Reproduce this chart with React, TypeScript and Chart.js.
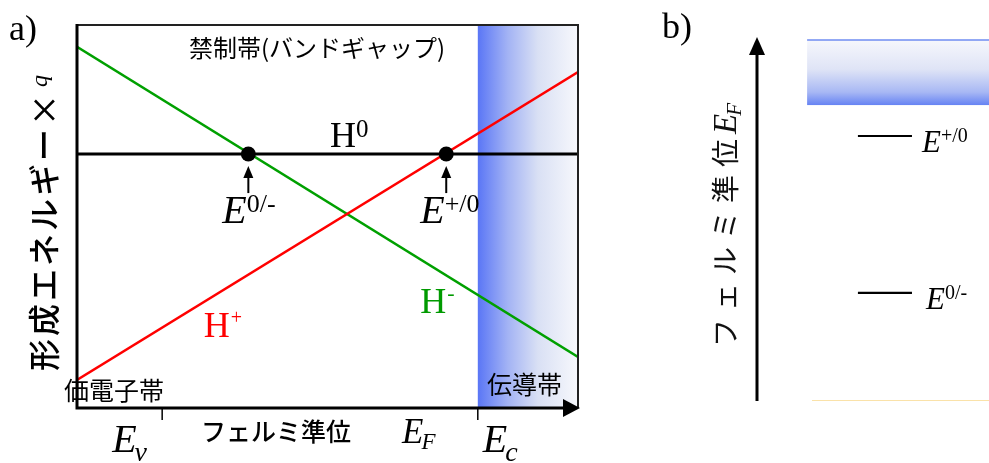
import React, { useEffect, useRef } from "react";
import { Chart, registerables } from "chart.js";
Chart.register(...registerables);

// ---------- Panel a: formation energy vs Fermi level (arbitrary units) ----------
const fermiMin = 0;
const fermiMax = 10;
const energyMin = 0;
const energyMax = 10;
const hMinusX = [0, 10];
const hMinusY = [9.43, 1.33];
const hPlusX = [0, 10];
const hPlusY = [0.73, 8.77];
const hZeroX = [0, 10];
const hZeroY = [6.63, 6.63];
const transitionX = [3.42, 7.37];
const transitionY = [6.63, 6.63];
const transitionLabels = ["0/-", "+/0"];
const bandEdgeX = [1.7, 8.0];
const bandEdgeSubs = ["v", "c"];
const conductionBandStart = 8.0;

// ---------- Panel b: level diagram on the Fermi-level axis ----------
const levelMin = 0;
const levelMax = 10;
const levelY = [7.28, 2.97];
const levelLabels = ["+/0", "0/-"];
const levelX = [4.35, 6.68];
const cbBandX = [2.16, 10];
const cbBandY = [8.13, 9.92];
const vbLineX = [2.37, 10];
const vbLineY = [0, 0];

const CJK = '"Noto Sans CJK JP", "Noto Sans", sans-serif';
const SERIF = '"Liberation Serif", "DejaVu Serif", serif';

const pts = (xs: number[], ys: number[]) => xs.map((x, i) => ({ x, y: ys[i] }));

type Part = { t: string; f: string; dy?: number; dx?: number };
function rich(ctx: CanvasRenderingContext2D, x: number, y: number, parts: Part[], color = "#000") {
  ctx.fillStyle = color;
  ctx.textAlign = "left";
  let cx = x;
  for (const p of parts) {
    ctx.font = p.f;
    cx += p.dx || 0;
    ctx.fillText(p.t, cx, y + (p.dy || 0));
    cx += ctx.measureText(p.t).width;
  }
}

function arrowHead(ctx: CanvasRenderingContext2D, tx: number, ty: number, dir: "up" | "right", len: number, half: number) {
  ctx.beginPath();
  if (dir === "up") {
    ctx.moveTo(tx, ty);
    ctx.lineTo(tx - half, ty + len);
    ctx.lineTo(tx + half, ty + len);
  } else {
    ctx.moveTo(tx, ty);
    ctx.lineTo(tx - len, ty - half);
    ctx.lineTo(tx - len, ty + half);
  }
  ctx.closePath();
  ctx.fill();
}

const panelAPlugin = {
  id: "panelA",
  beforeDatasetsDraw(chart: any) {
    const { ctx, scales } = chart;
    const x = scales.x, y = scales.y;
    const x0 = x.getPixelForValue(conductionBandStart);
    const x1 = x.getPixelForValue(fermiMax);
    const yT = y.getPixelForValue(energyMax);
    const yB = y.getPixelForValue(energyMin);
    const g = ctx.createLinearGradient(x0, 0, x1, 0);
    g.addColorStop(0, "#5a76f6");
    g.addColorStop(0.3, "#a3b3f4");
    g.addColorStop(0.6, "#d9e0f4");
    g.addColorStop(1, "#f7f8fc");
    ctx.save();
    ctx.fillStyle = g;
    ctx.fillRect(x0, yT, x1 - x0, yB - yT);
    ctx.restore();
  },
  afterDatasetsDraw(chart: any) {
    const { ctx, chartArea: a, scales } = chart;
    const x = scales.x, y = scales.y;
    ctx.save();
    // frame
    ctx.strokeStyle = "#222";
    ctx.lineWidth = 2;
    ctx.beginPath();
    ctx.moveTo(a.left, a.top);
    ctx.lineTo(a.right, a.top);
    ctx.lineTo(a.right, a.bottom);
    ctx.stroke();
    ctx.strokeStyle = "#000";
    ctx.lineWidth = 3;
    ctx.beginPath();
    ctx.moveTo(a.left, a.top - 1);
    ctx.lineTo(a.left, a.bottom);
    ctx.lineTo(a.right - 14, a.bottom);
    ctx.stroke();
    ctx.fillStyle = "#000";
    arrowHead(ctx, a.right + 2, a.bottom, "right", 17, 9);
    // band edge ticks and labels
    ctx.lineWidth = 1.5;
    bandEdgeX.forEach((v, i) => {
      const px = x.getPixelForValue(v);
      ctx.strokeStyle = "#000";
      ctx.beginPath();
      ctx.moveTo(px, a.bottom);
      ctx.lineTo(px, a.bottom + 12);
      ctx.stroke();
      const lx = i === 0 ? px - 50 : px + 5;
      rich(ctx, lx, 452, [
        { t: "E", f: `italic 40px ${SERIF}` },
        { t: bandEdgeSubs[i], f: `italic 28px ${SERIF}`, dy: 9, dx: -2 },
      ]);
    });
    // transition arrows + labels
    transitionX.forEach((v, i) => {
      const px = x.getPixelForValue(v);
      const py = y.getPixelForValue(transitionY[i]);
      ctx.strokeStyle = "#000";
      ctx.lineWidth = 2;
      ctx.beginPath();
      ctx.moveTo(px, py + 39);
      ctx.lineTo(px, py + 20);
      ctx.stroke();
      ctx.fillStyle = "#000";
      arrowHead(ctx, px, py + 12, "up", 12, 5);
      rich(ctx, px - 26, py + 69, [
        { t: "E", f: `italic 40px ${SERIF}` },
        { t: transitionLabels[i], f: `26px ${SERIF}`, dy: -11, dx: 0 },
      ]);
    });
    // curve labels
    const h0y = y.getPixelForValue(hZeroY[0]);
    rich(ctx, x.getPixelForValue(5.05), h0y - 7, [
      { t: "H", f: `36px ${SERIF}` },
      { t: "0", f: `25px ${SERIF}`, dy: -10 },
    ]);
    rich(ctx, x.getPixelForValue(2.53), 337, [
      { t: "H", f: `36px ${SERIF}` },
      { t: "+", f: `20px ${SERIF}`, dy: -13, dx: 1 },
    ], "#ff0000");
    rich(ctx, x.getPixelForValue(6.85), 313, [
      { t: "H", f: `36px ${SERIF}` },
      { t: "-", f: `22px ${SERIF}`, dy: -13, dx: 1 },
    ], "#009a00");
    // region labels
    ctx.fillStyle = "#000";
    ctx.textBaseline = "middle";
    ctx.font = `24px ${CJK}`;
    ctx.textAlign = "center";
    ctx.fillText("禁制帯(バンドギャップ)", 317, 48);
    ctx.textAlign = "left";
    ctx.font = `25px ${CJK}`;
    ctx.fillText("価電子帯", 64, 390);
    ctx.fillText("伝導帯", 487, 384);
    // x title
    ctx.font = `500 25px ${CJK}`;
    ctx.fillText("フェルミ準位", 201, 431);
    ctx.textBaseline = "alphabetic";
    rich(ctx, 402, 443, [
      { t: "E", f: `italic 35px ${SERIF}` },
      { t: "F", f: `italic 23px ${SERIF}`, dy: 6, dx: -2 },
    ]);
    // y title (rotated)
    ctx.save();
    ctx.translate(44, 371);
    ctx.rotate(-Math.PI / 2);
    ctx.textBaseline = "middle";
    ctx.font = `500 32px ${CJK}`;
    const ytxt = "形成エネルギー×";
    let u = 0;
    for (const ch of ytxt) {
      ctx.fillText(ch, u, 0);
      u += ctx.measureText(ch).width + 3;
    }
    ctx.textBaseline = "alphabetic";
    ctx.font = `italic 24px ${SERIF}`;
    ctx.fillText("q", u + 4, 3);
    ctx.restore();
    // panel tag
    ctx.font = `36px ${SERIF}`;
    ctx.fillStyle = "#000";
    ctx.fillText("a)", 9, 40);
    ctx.restore();
  },
};

const panelBPlugin = {
  id: "panelB",
  beforeDatasetsDraw(chart: any) {
    const { ctx, scales } = chart;
    const x = scales.x, y = scales.y;
    const x0 = x.getPixelForValue(cbBandX[0]);
    const x1 = x.getPixelForValue(cbBandX[1]);
    const yT = y.getPixelForValue(cbBandY[1]);
    const yB = y.getPixelForValue(cbBandY[0]);
    const g = ctx.createLinearGradient(0, yT, 0, yB);
    g.addColorStop(0, "#f6f7fc");
    g.addColorStop(0.45, "#dfe4f6");
    g.addColorStop(0.8, "#a8b8f4");
    g.addColorStop(1, "#6683f3");
    ctx.save();
    ctx.fillStyle = g;
    ctx.fillRect(x0, yT, x1 - x0, yB - yT);
    ctx.strokeStyle = "#6f8cf2";
    ctx.lineWidth = 1.5;
    ctx.beginPath();
    ctx.moveTo(x0, yT);
    ctx.lineTo(x1, yT);
    ctx.stroke();
    ctx.restore();
  },
  afterDatasetsDraw(chart: any) {
    const { ctx, chartArea: a, scales } = chart;
    const x = scales.x, y = scales.y;
    ctx.save();
    // vertical axis arrow
    ctx.strokeStyle = "#000";
    ctx.lineWidth = 3;
    ctx.beginPath();
    ctx.moveTo(a.left, a.bottom);
    ctx.lineTo(a.left, a.top + 14);
    ctx.stroke();
    ctx.fillStyle = "#000";
    arrowHead(ctx, a.left, a.top, "up", 18, 8);
    // level labels
    levelY.forEach((v, i) => {
      const py = y.getPixelForValue(v);
      const px = x.getPixelForValue(levelX[1]);
      rich(ctx, px + 10 + (i === 1 ? 4 : 0), py + 16, [
        { t: "E", f: `italic 31px ${SERIF}` },
        { t: levelLabels[i], f: `20px ${SERIF}`, dy: -10, dx: 0 },
      ]);
    });
    // rotated y title
    ctx.save();
    ctx.translate(65, 347);
    ctx.rotate(-Math.PI / 2);
    ctx.textBaseline = "middle";
    ctx.font = `28px ${CJK}`;
    ctx.fillStyle = "#111";
    const t = "フェルミ準位";
    let u = 0;
    for (const ch of t) {
      ctx.fillText(ch, u, 0);
      u += 36;
    }
    ctx.textBaseline = "alphabetic";
    ctx.font = `italic 33px ${SERIF}`;
    ctx.fillText("E", u - 3, 11);
    u += ctx.measureText("E").width - 5;
    ctx.font = `italic 21px ${SERIF}`;
    ctx.fillText("F", u, 16);
    ctx.restore();
    ctx.font = `36px ${SERIF}`;
    ctx.fillStyle = "#000";
    ctx.textAlign = "left";
    ctx.fillText("b)", 2, 38);
    ctx.restore();
  },
};

export default function App() {
  const refA = useRef<HTMLCanvasElement>(null);
  const refB = useRef<HTMLCanvasElement>(null);
  useEffect(() => {
    const common = {
      animation: false as const,
      responsive: false,
      events: [] as any[],
      plugins: { legend: { display: false }, tooltip: { enabled: false } },
    };
    const chartA = new Chart(refA.current!, {
      type: "scatter",
      data: {
        datasets: [
          { data: pts(transitionX, transitionY), showLine: false, pointRadius: 7.5, pointBackgroundColor: "#000", pointBorderWidth: 0 } as any,
          { data: pts(hPlusX, hPlusY), showLine: true, borderColor: "#ff0000", borderWidth: 2.5, pointRadius: 0 },
          { data: pts(hMinusX, hMinusY), showLine: true, borderColor: "#00a000", borderWidth: 2.5, pointRadius: 0 },
          { data: pts(hZeroX, hZeroY), showLine: true, borderColor: "#000", borderWidth: 3, pointRadius: 0 },
        ],
      },
      options: {
        ...common,
        layout: { padding: { left: 77, right: 82, top: 25, bottom: 55 } },
        scales: {
          x: { type: "linear", min: fermiMin, max: fermiMax, display: false },
          y: { type: "linear", min: energyMin, max: energyMax, display: false },
        },
      } as any,
      plugins: [panelAPlugin],
    });
    const chartB = new Chart(refB.current!, {
      type: "scatter",
      data: {
        datasets: [
          ...levelY.map((v) => ({ data: pts(levelX, [v, v]), showLine: true, borderColor: "#000", borderWidth: 2.2, pointRadius: 0 })),
          { data: pts(vbLineX, vbLineY), showLine: true, borderColor: "#f8d88c", borderWidth: 1.5, pointRadius: 0 },
        ],
      },
      options: {
        ...common,
        layout: { padding: { left: 97, right: 0, top: 37, bottom: 62 } },
        scales: {
          x: { type: "linear", min: 0, max: 10, display: false },
          y: { type: "linear", min: levelMin, max: levelMax, display: false },
        },
      } as any,
      plugins: [panelBPlugin],
    });
    return () => {
      chartA.destroy();
      chartB.destroy();
    };
  }, []);
  return (
    <div style={{ position: "fixed", left: 0, top: 0, width: 989, height: 463, background: "#fff" }}>
      <canvas ref={refA} width={660} height={463} style={{ position: "absolute", left: 0, top: 0, width: 660, height: 463 }} />
      <canvas ref={refB} width={329} height={463} style={{ position: "absolute", left: 660, top: 0, width: 329, height: 463 }} />
    </div>
  );
}
